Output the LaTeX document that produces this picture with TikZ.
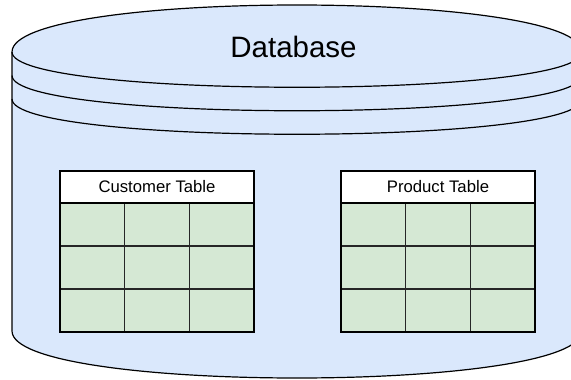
\documentclass[tikz,border=0pt]{standalone}
\usepackage{fontspec}
\setmainfont{Liberation Sans}
\definecolor{dbfill}{HTML}{DAE8FC}
\definecolor{cellfill}{HTML}{D5E8D4}
\tikzset{
  cyl/.style={draw=black, line width=1.2pt, fill=dbfill},
  ring/.style={draw=black, line width=1.2pt},
  header/.style={draw=black, line width=1.3pt, fill=white, minimum width=194pt, minimum height=32pt, inner sep=0pt, outer sep=0pt, font=\fontsize{16.7}{20}\selectfont},
  cell/.style={draw=black!85, line width=1.2pt, fill=cellfill, minimum width=64.67pt, minimum height=43pt, inner sep=0pt, outer sep=0pt},
  title/.style={font=\fontsize{29.5}{34}\selectfont, inner sep=0pt}
}
\begin{document}
\begin{tikzpicture}[x=1pt,y=-1pt]
\useasboundingbox (0,0) rectangle (571,380);
\clip (0,0) rectangle (571,380);
% cylinder body
\path[cyl] (12,52) .. controls (12,-10.67) and (582,-10.67) .. (582,52)
  -- (582,331) .. controls (582,393.67) and (12,393.67) .. (12,331) -- cycle;
\draw[ring] (12,52) .. controls (12,99) and (582,99) .. (582,52);
\draw[ring] (12,75.5) .. controls (12,122.5) and (582,122.5) .. (582,75.5);
\draw[ring] (12,99) .. controls (12,146) and (582,146) .. (582,99);
\node[title, anchor=base] (db) at (293.5,57.5) {Database};
% tables
\foreach \tn/\tx/\lab in {cust/60/Customer Table, prod/341/Product Table}{
  \foreach \r in {0,1,2}{
    \foreach \c in {0,1,2}{
      \node[cell, anchor=north west] (\tn-\r-\c) at ({\tx+\c*64.67},{203+\r*43}) {};
    }
  }
  \node[header, anchor=north west] (\tn-h) at (\tx,171) {\lab};
  \draw[black, line width=1.3pt] (\tn-h.north west) rectangle (\tn-2-2.south east);
}
\end{tikzpicture}
\end{document}
